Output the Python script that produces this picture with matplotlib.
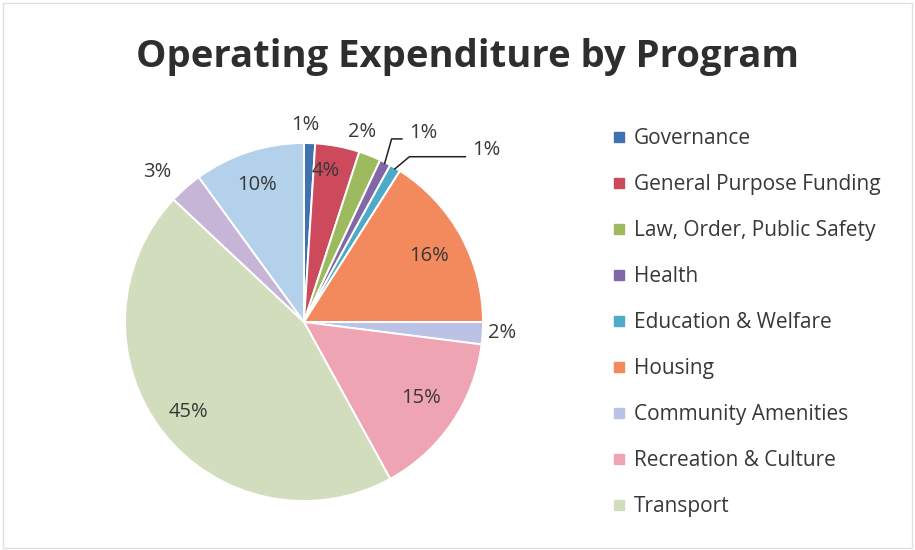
import numpy as np
import matplotlib.pyplot as plt
from matplotlib.lines import Line2D
from matplotlib.patches import Rectangle

# share of operating expenditure by program, %
programs = ["Governance", "General Purpose Funding", "Law, Order, Public Safety",
            "Health", "Education & Welfare", "Housing", "Community Amenities",
            "Recreation & Culture", "Transport", "Economic Services",
            "Other Property & Services"]
shares = [1, 4, 2, 1, 1, 16, 2, 15, 45, 3, 10]
n_legend = 9  # only the first nine programs are listed in the key

colors = ["#3F72AE", "#CC4A5C", "#9DBB5E", "#8267A6", "#4DAAC8", "#F38A5E",
          "#BAC3E5", "#EFA4B3", "#D1DDBD", "#C7B5D8", "#B3D1EB"]

# label placement: distance from centre and angular nudge (deg)
label_r = [1.10, 0.85, 1.11, 1.25, 1.40, 0.79, 1.11, 0.78, 0.82, 1.17, 0.81]
label_da = [-1.5, -2.5, -4.5, 5.2, 16.2, 1, -0.5, -1, 0, -3, -1]

plt.rcParams['font.family'] = ['Open Sans', 'DejaVu Sans']
txt = "#383838"

fig = plt.figure(figsize=(9.15, 5.5), dpi=100)
fig.patch.set_facecolor("white")
fig.patches.append(Rectangle((0.003, 0.004), 0.994, 0.99, transform=fig.transFigure,
                             fill=False, edgecolor="#E0E0E0", linewidth=1))

W, H = 915, 550
cx, cy, R = 304, 322, 179
xl, yl = (-1.45, 1.45), (-1.05, 1.45)
ax = fig.add_axes([(cx + xl[0] * R) / W, (H - cy + yl[0] * R) / H,
                   (xl[1] - xl[0]) * R / W, (yl[1] - yl[0]) * R / H])

wedges, _ = ax.pie(shares, colors=colors, startangle=90, counterclock=False,
                   radius=1.0, wedgeprops=dict(edgecolor="white", linewidth=1.4))
ax.set_xlim(*xl)
ax.set_ylim(*yl)
ax.set_aspect("equal")
ax.axis("off")

# percentage labels
cum = np.cumsum([0] + shares[:-1])
for i, s in enumerate(shares):
    mid_deg = 90 - (cum[i] + s / 2) / sum(shares) * 360
    t = np.deg2rad(mid_deg - label_da[i])
    x, y = label_r[i] * np.cos(t), label_r[i] * np.sin(t)
    ax.text(x, y, f"{s}%", ha="center", va="center", fontsize=14.5, color=txt)

    # leader lines for the two thin slices on the top right
    if i in (3, 4):
        tm = np.deg2rad(mid_deg)
        p0 = (0.99 * np.cos(tm), 0.99 * np.sin(tm))
        bend = 0.04 if i == 3 else 0.085
        p1 = (p0[0] + bend, y - 0.035)
        p2 = (x - 0.115, y - 0.035)
        ax.plot([p0[0], p1[0], p2[0]], [p0[1], p1[1], p2[1]],
                color="#222222", linewidth=1.1, solid_capstyle="butt")

fig.text(468 / W, 1 - 57 / H, "Operating Expenditure by Program", ha="center",
         va="center", fontsize=27.5, fontweight="bold", color="#2E2E2E")

handles = [Line2D([], [], marker="s", linestyle="none", markersize=7,
                  markerfacecolor=colors[i], markeredgecolor=colors[i])
           for i in range(n_legend)]
fig.legend(handles, programs[:n_legend], loc="upper left",
           bbox_to_anchor=(604 / W, 1 - 120 / H), frameon=False,
           fontsize=15, labelcolor=txt, handlelength=0.6, handletextpad=0.45,
           labelspacing=1.2, borderaxespad=0)

fig.savefig("out.png", dpi=100, facecolor="white")
